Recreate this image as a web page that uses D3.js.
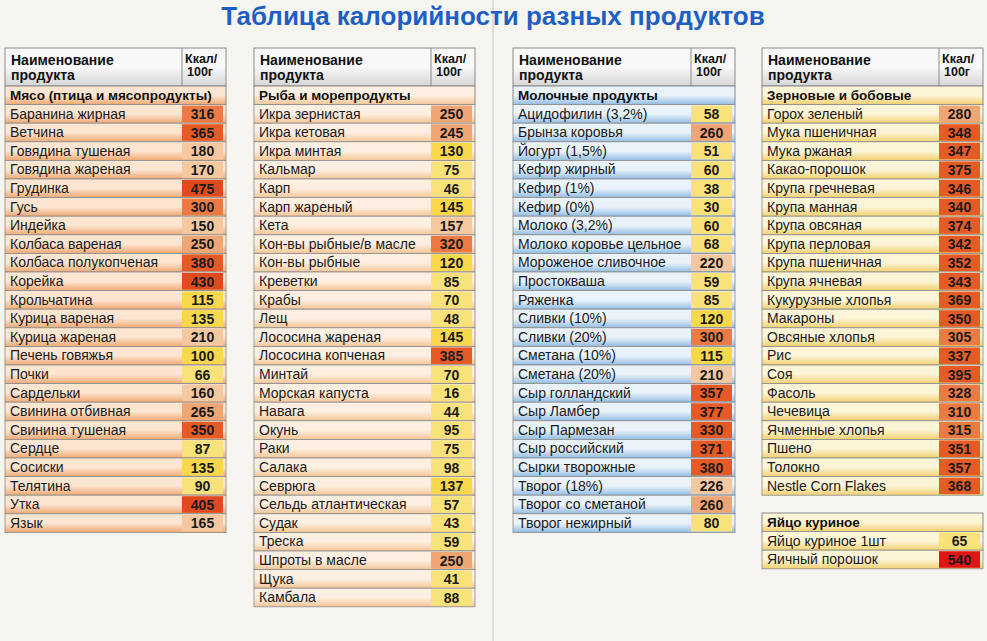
<!DOCTYPE html>
<html><head><meta charset="utf-8">
<script src="https://cdn.jsdelivr.net/npm/d3@7"></script>
<style>body{margin:0;background:#f7f5f0}svg{display:block;font-family:"Liberation Sans",Arial,sans-serif}</style>
</head><body><div id="chart"></div>
<script>
const meatNames = ["Баранина жирная","Ветчина","Говядина тушеная","Говядина жареная","Грудинка","Гусь","Индейка","Колбаса вареная","Колбаса полукопченая","Корейка","Крольчатина","Курица вареная","Курица жареная","Печень говяжья","Почки","Сардельки","Свинина отбивная","Свинина тушеная","Сердце","Сосиски","Телятина","Утка","Язык"];
const meatKcal = [316,365,180,170,475,300,150,250,380,430,115,135,210,100,66,160,265,350,87,135,90,405,165];
const fishNames = ["Икра зернистая","Икра кетовая","Икра минтая","Кальмар","Карп","Карп жареный","Кета","Кон-вы рыбные/в масле","Кон-вы рыбные","Креветки","Крабы","Лещ","Лососина жареная","Лососина копченая","Минтай","Морская капуста","Навага","Окунь","Раки","Салака","Севрюга","Сельдь атлантическая","Судак","Треска","Шпроты в масле","Щука","Камбала"];
const fishKcal = [250,245,130,75,46,145,157,320,120,85,70,48,145,385,70,16,44,95,75,98,137,57,43,59,250,41,88];
const dairyNames = ["Ацидофилин (3,2%)","Брынза коровья","Йогурт (1,5%)","Кефир жирный","Кефир (1%)","Кефир (0%)","Молоко (3,2%)","Молоко коровье цельное","Мороженое сливочное","Простокваша","Ряженка","Сливки (10%)","Сливки (20%)","Сметана (10%)","Сметана (20%)","Сыр голландский","Сыр Ламбер","Сыр Пармезан","Сыр российский","Сырки творожные","Творог (18%)","Творог со сметаной","Творог нежирный"];
const dairyKcal = [58,260,51,60,38,30,60,68,220,59,85,120,300,115,210,357,377,330,371,380,226,260,80];
const grainNames = ["Горох зеленый","Мука пшеничная","Мука ржаная","Какао-порошок","Крупа гречневая","Крупа манная","Крупа овсяная","Крупа перловая","Крупа пшеничная","Крупа ячневая","Кукурузные хлопья","Макароны","Овсяные хлопья","Рис","Соя","Фасоль","Чечевица","Ячменные хлопья","Пшено","Толокно","Nestle Corn Flakes"];
const grainKcal = [280,348,347,375,346,340,374,342,352,343,369,350,305,337,395,328,310,315,351,357,368];
const eggNames = ["Яйцо куриное 1шт","Яичный порошок"];
const eggKcal = [65,540];

const W = 987, H = 641, rowH = 18.6;
const svg = d3.select("#chart").append("svg").attr("width", W).attr("height", H);
const defs = svg.append("defs");
function grad(id, edge, mid) {
  const g = defs.append("linearGradient").attr("id", id).attr("x1",0).attr("y1",0).attr("x2",0).attr("y2",1);
  g.append("stop").attr("offset","0%").attr("stop-color", mid);
  g.append("stop").attr("offset","50%").attr("stop-color", mid);
  g.append("stop").attr("offset","100%").attr("stop-color", edge);
}
grad("meat", "#f0a872", "#fce6d2");
grad("fish", "#f4c597", "#fdf0e2");
grad("dairy", "#92bde3", "#ebf3fa");
grad("grain", "#f2d070", "#fdf5d8");
grad("head", "#d6d6d6", "#f8f8f8");

svg.append("line").attr("x1",493).attr("x2",493).attr("y1",0).attr("y2",H).attr("stroke","#e2ddd2").attr("stroke-width",2);
svg.append("text").attr("x",493).attr("y",25).attr("text-anchor","middle")
  .attr("font-size",26).attr("font-weight","bold").attr("fill","#1f5fc4")
  .text("Таблица калорийности разных продуктов");

const valColor = d3.scaleThreshold().domain([100,150,240,290,330,400,500])
  .range(["#f9e27a","#f7d84a","#f5c8a0","#f0a575","#ec7a42","#e65a26","#e04a1e","#e01616"]);

function table(x, w, y0, header, title, names, kcal, theme) {
  const g = svg.append("g").attr("transform", `translate(${x},0)`);
  const vx = w - 44;
  let y = y0;
  if (header) {
    g.append("rect").attr("y", y).attr("width", w).attr("height", 38).attr("fill", "url(#head)").attr("stroke", "#8a8a8a");
    g.append("line").attr("x1", vx).attr("x2", vx).attr("y1", y).attr("y2", y + 38).attr("stroke", "#8a8a8a");
    const t = g.append("text").attr("font-size", 14).attr("font-weight", "bold").attr("fill", "#111");
    t.append("tspan").attr("x", 6).attr("y", y + 17).text("Наименование");
    t.append("tspan").attr("x", 6).attr("y", y + 32).text("продукта");
    const k = g.append("text").attr("font-size", 12.5).attr("font-weight", "bold").attr("fill", "#111");
    k.append("tspan").attr("x", vx + 3).attr("y", y + 15).text("Ккал/");
    k.append("tspan").attr("x", vx + 5).attr("y", y + 28).text("100г");
    y += 38;
  }
  g.append("rect").attr("y", y).attr("width", w).attr("height", rowH).attr("fill", `url(#${theme})`).attr("stroke", "#8a8a8a");
  g.append("text").attr("x", 5).attr("y", y + 14).attr("font-size", 13.5).attr("font-weight", "bold").attr("fill", "#111").text(title);
  y += rowH;
  const ys = d3.scaleBand().domain(d3.range(names.length)).range([y, y + names.length * rowH]);
  const rows = g.selectAll("g.row").data(names.map((n, i) => ({n, v: kcal[i], i}))).join("g")
    .attr("transform", d => `translate(0,${ys(d.i)})`);
  rows.append("rect").attr("width", w).attr("height", ys.bandwidth()).attr("fill", `url(#${theme})`).attr("stroke", "#8a8a8a").attr("stroke-width", 0.8);
  rows.append("rect").attr("x", vx).attr("y", 1).attr("width", 41).attr("height", ys.bandwidth() - 2).attr("fill", d => valColor(d.v));
  rows.append("text").attr("x", 5).attr("y", 14).attr("font-size", 14).attr("fill", "#1a1a1a").text(d => d.n);
  rows.append("text").attr("x", vx + 20.5).attr("y", 14.5).attr("text-anchor", "middle").attr("font-size", 14).attr("font-weight", "bold").attr("fill", "#1a1a1a").text(d => d.v);
}
table(5, 221, 48, true, "Мясо (птица и мясопродукты)", meatNames, meatKcal, "meat");
table(254, 221, 48, true, "Рыба и морепродукты", fishNames, fishKcal, "fish");
table(513, 222, 48, true, "Молочные продукты", dairyNames, dairyKcal, "dairy");
table(762, 221, 48, true, "Зерновые и бобовые", grainNames, grainKcal, "grain");
table(762, 221, 513, false, "Яйцо куриное", eggNames, eggKcal, "grain");
</script></body></html>
